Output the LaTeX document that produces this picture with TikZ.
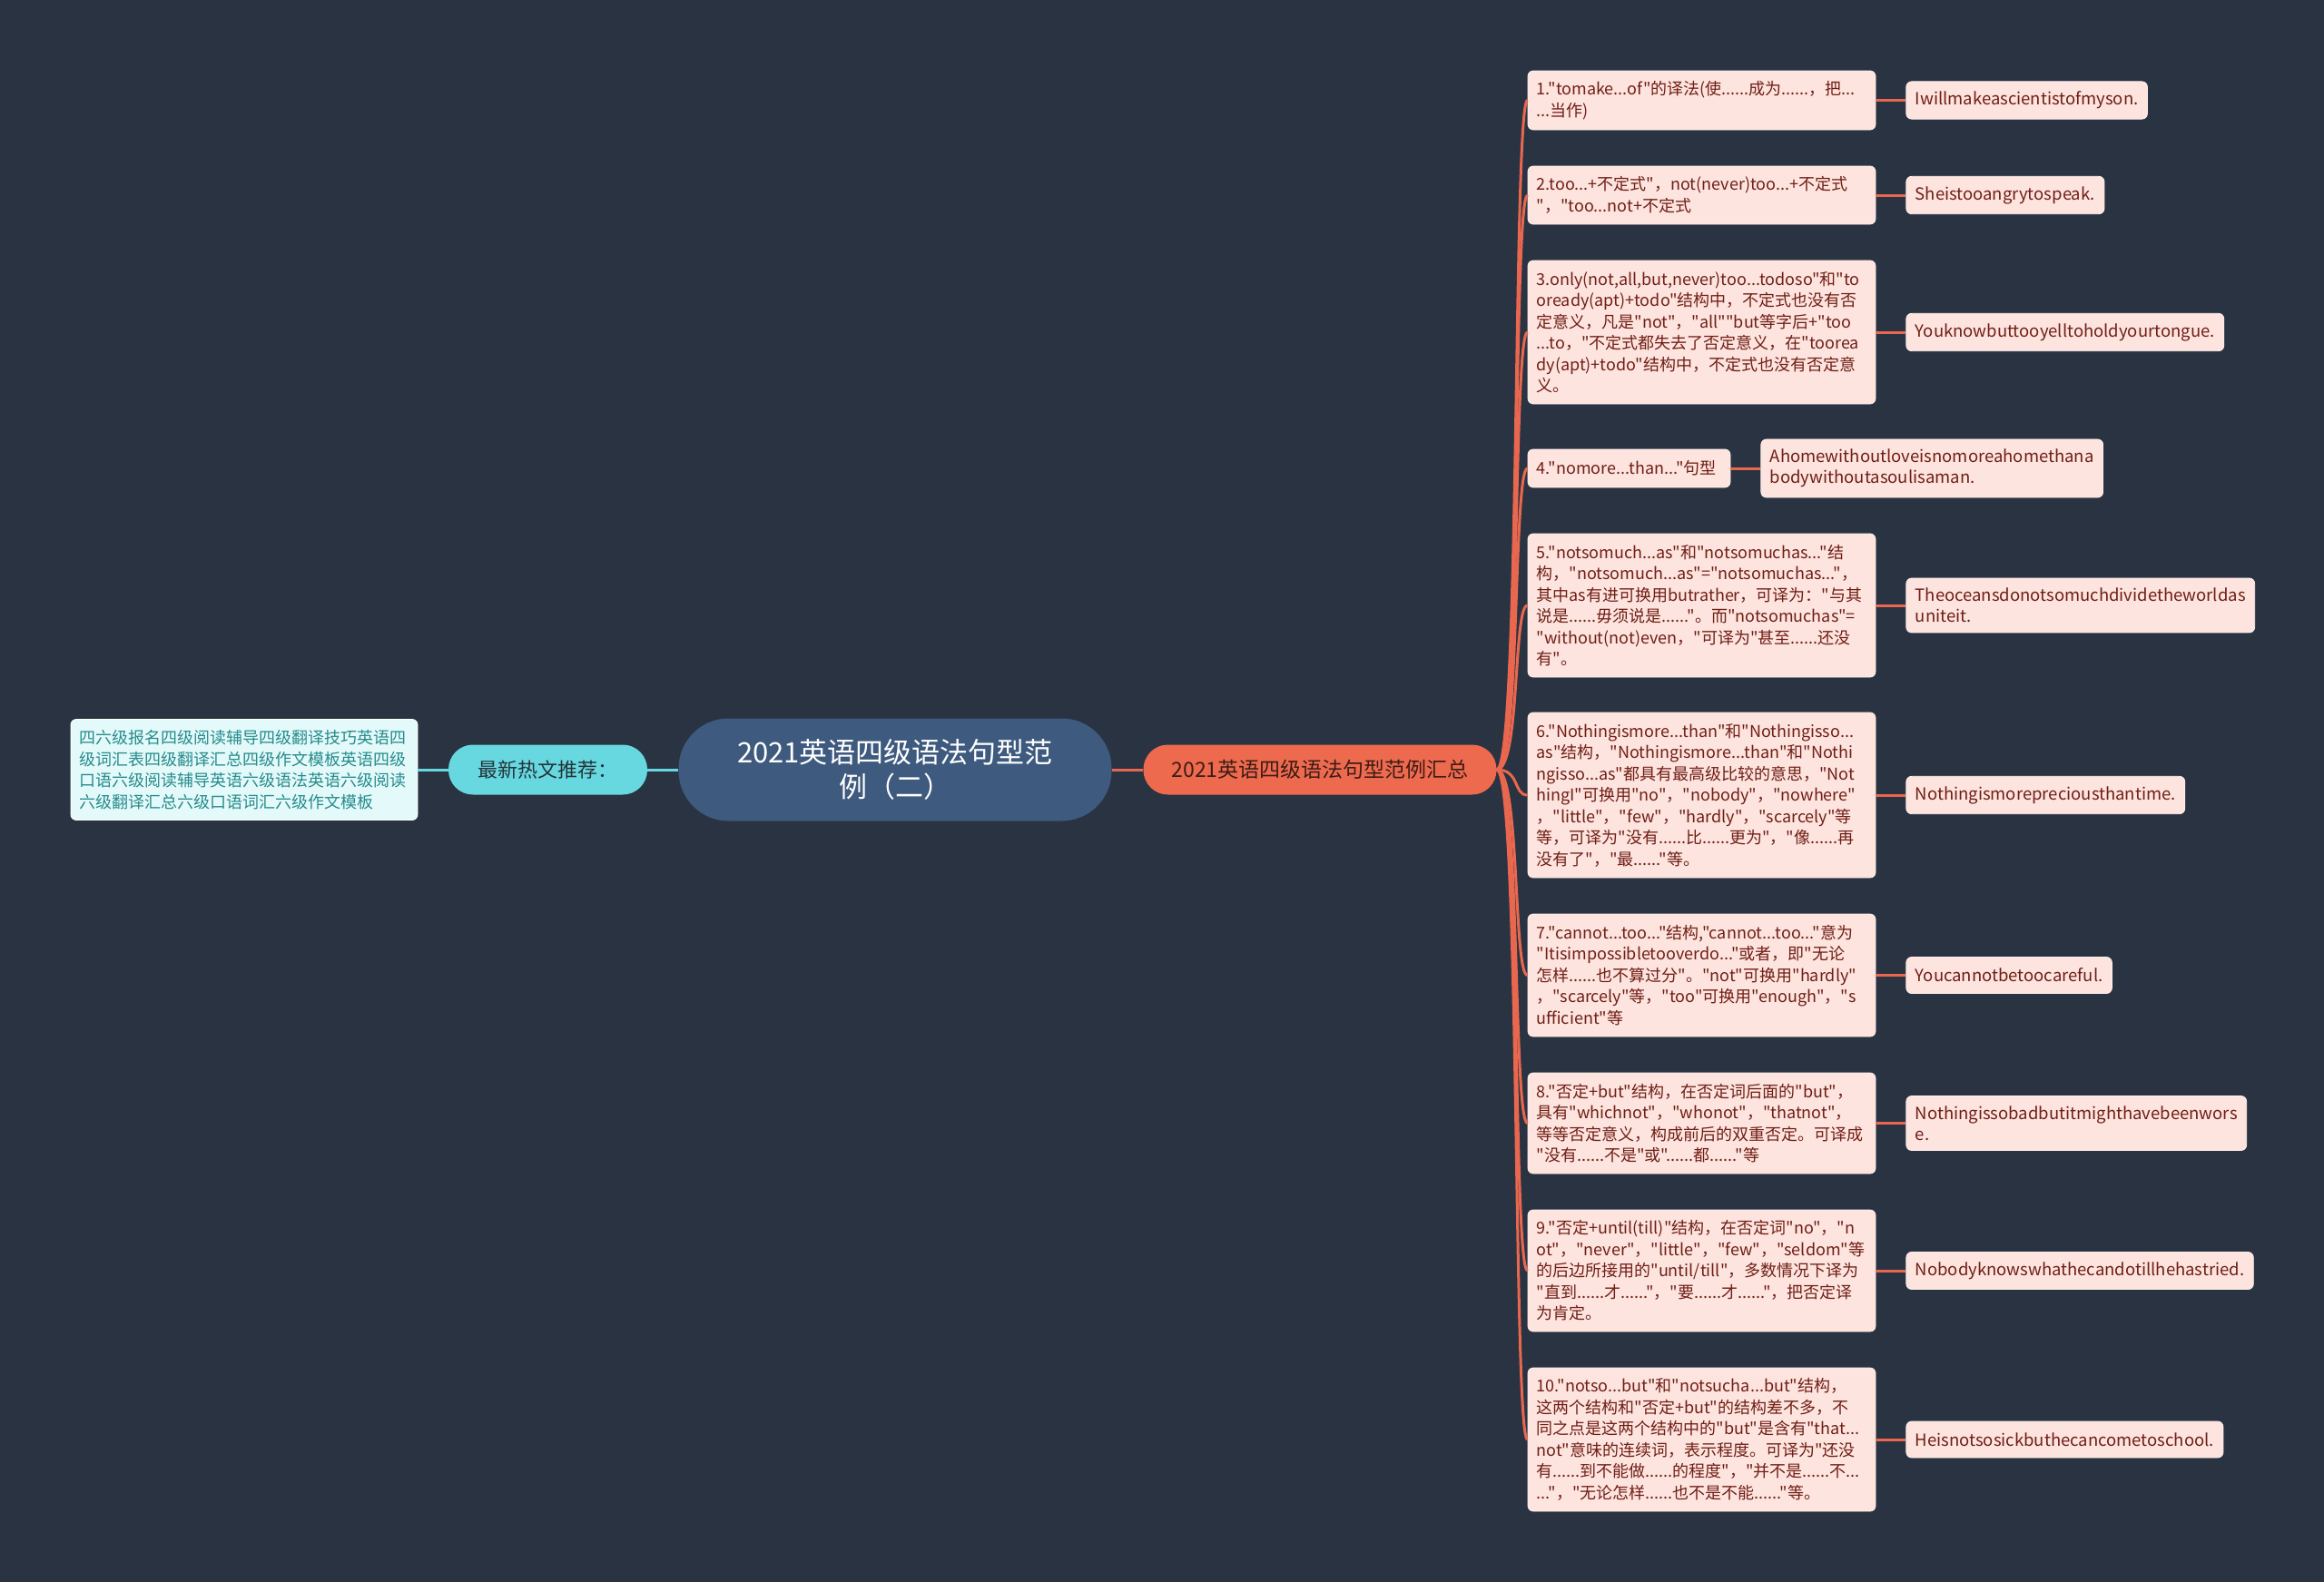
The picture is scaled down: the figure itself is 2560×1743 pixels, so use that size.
\documentclass[tikz,border=0pt]{standalone}
\usepackage{fontspec}
\setmainfont{Noto Sans CJK SC}
\newfontfamily\cjkfont{Noto Sans CJK SC}
\usetikzlibrary{positioning}
\hyphenpenalty=10000
\exhyphenpenalty=10000

\definecolor{bgcol}{RGB}{42,51,66}
\definecolor{rootcol}{RGB}{62,90,126}
\definecolor{sumcol}{RGB}{238,106,78}
\definecolor{hotcol}{RGB}{104,216,224}
\definecolor{hotlistcol}{RGB}{228,249,250}
\definecolor{tealtext}{RGB}{38,140,140}
\definecolor{boxcol}{RGB}{253,228,222}
\definecolor{boxedge}{RGB}{255,240,236}
\definecolor{textcol}{RGB}{112,30,22}
\definecolor{linecol}{RGB}{232,103,78}

\newcommand{\gfont}{\cjkfont\fontsize{18}{23.5}\selectfont}

\begin{document}
\begin{tikzpicture}[x=1pt,y=-1pt,
  rootnode/.style={fill=rootcol, rounded corners=55pt, minimum width=477pt,
    minimum height=113pt, text=white, align=center,
    font=\cjkfont\fontsize{31}{38}\selectfont},
  sumnode/.style={fill=sumcol, rounded corners=27pt, minimum width=389pt,
    minimum height=55pt, text={rgb,255:red,60;green,28;blue,22},
    font=\cjkfont\fontsize{23}{28}\selectfont},
  hotnode/.style={fill=hotcol, rounded corners=27pt, minimum width=219pt,
    minimum height=55pt, text={rgb,255:red,34;green,52;blue,56},
    font=\cjkfont\fontsize{22}{27}\selectfont},
  hotlist/.style={fill=hotlistcol, draw=white, line width=0.8pt,
    rounded corners=6pt, text=tealtext, align=left, text width=364pt,
    inner xsep=9pt, minimum height=111pt, font=\gfont},
  gbox/.style={fill=boxcol, draw=boxedge, line width=0.8pt, rounded corners=6pt,
    text=textcol, align=left, text width=364pt, inner xsep=9.5pt,
    inner ysep=8pt, font=\gfont},
  ebox/.style={fill=boxcol, draw=boxedge, line width=0.8pt, rounded corners=6pt,
    text=textcol, align=left, inner xsep=10pt, inner ysep=11pt,
    minimum height=40pt, font=\cjkfont\fontsize{18.5}{23}\selectfont},
  orangeline/.style={draw=linecol, line width=3pt},
  cyanline/.style={draw=hotcol, line width=3pt}]

  % background and page size
  \fill[bgcol] (0,0) rectangle (2560,1743);
  \useasboundingbox (0,0) rectangle (2560,1743);

  % centre and first level
  \node[rootnode] (root) at (986,848) {2021英语四级语法句型范\\例（二）};
  \node[sumnode] (sum) at (1454,848) {2021英语四级语法句型范例汇总};
  \node[hotnode] (hot) at (603.5,848) {最新热文推荐：};
  \node[hotlist] (list) at (269,848)
    {四六级报名四级阅读辅导四级翻译技巧英语四\\
     级词汇表四级翻译汇总四级作文模板英语四级\\
     口语六级阅读辅导英语六级语法英语六级阅读\\
     六级翻译汇总六级口语词汇六级作文模板};

  % grammar points
  \node[gbox, minimum height=65pt] (g1) at (1874.5,110.5)
    {1."tomake...of"的译法(使......成为......，把...\\
     ...当作)};
  \node[gbox, minimum height=64pt] (g2) at (1874.5,215)
    {2.too...+不定式"，not(never)too...+不定式\\
     "，"too...not+不定式};
  \node[gbox, minimum height=158pt] (g3) at (1874.5,366)
    {3.only(not,all,but,never)too...todoso"和"to\\
     oready(apt)+todo"结构中，不定式也没有否\\
     定意义，凡是"not"，"all""but等字后+"too\\
     ...to，"不定式都失去了否定意义，在"toorea\\
     dy(apt)+todo"结构中，不定式也没有否定意\\
     义。};
  \node[gbox, text width=204pt, minimum height=42pt] (g4) at (1794.5,516)
    {4."nomore...than..."句型};
  \node[gbox, minimum height=158pt] (g5) at (1874.5,667)
    {5."notsomuch...as"和"notsomuchas..."结\\
     构，"notsomuch...as"="notsomuchas..."，\\
     其中as有进可换用butrather，可译为："与其\\
     说是......毋须说是......"。而"notsomuchas"=\\
     "without(not)even，"可译为"甚至......还没\\
     有"。};
  \node[gbox, minimum height=182pt] (g6) at (1874.5,876)
    {6."Nothingismore...than"和"Nothingisso...\\
     as"结构，"Nothingismore...than"和"Nothi\\
     ngisso...as"都具有最高级比较的意思，"Not\\
     hingI"可换用"no"，"nobody"，"nowhere"\\
     ，"little"，"few"，"hardly"，"scarcely"等\\
     等，可译为"没有......比......更为"，"像......再\\
     没有了"，"最......"等。};
  \node[gbox, minimum height=135pt] (g7) at (1874.5,1074.5)
    {7."cannot...too..."结构,"cannot...too..."意为\\
     "Itisimpossibletooverdo..."或者，即"无论\\
     怎样......也不算过分"。"not"可换用"hardly"\\
     ，"scarcely"等，"too"可换用"enough"，"s\\
     ufficient"等};
  \node[gbox, minimum height=111pt] (g8) at (1874.5,1237.5)
    {8."否定+but"结构，在否定词后面的"but"，\\
     具有"whichnot"，"whonot"，"thatnot"，\\
     等等否定意义，构成前后的双重否定。可译成\\
     "没有......不是"或"......都......"等};
  \node[gbox, minimum height=134pt] (g9) at (1874.5,1400)
    {9."否定+until(till)"结构，在否定词"no"，"n\\
     ot"，"never"，"little"，"few"，"seldom"等\\
     的后边所接用的"until/till"，多数情况下译为\\
     "直到......才......"，"要......才......"，把否定译\\
     为肯定。};
  \node[gbox, minimum height=158pt] (g10) at (1874.5,1586)
    {10."notso...but"和"notsucha...but"结构，\\
     这两个结构和"否定+but"的结构差不多，不\\
     同之点是这两个结构中的"but"是含有"that...\\
     not"意味的连续词，表示程度。可译为"还没\\
     有......到不能做......的程度"，"并不是......不...\\
     ..."，"无论怎样......也不是不能......"等。};

  % example sentences
  \foreach \i/\t in {1/Iwillmakeascientistofmyson.,
      2/Sheistooangrytospeak.,
      3/Youknowbuttooyelltoholdyourtongue.,
      4/{Ahomewithoutloveisnomoreahomethana\\bodywithoutasoulisaman.},
      5/{Theoceansdonotsomuchdividetheworldas\\uniteit.},
      6/Nothingismorepreciousthantime.,
      7/Youcannotbetoocareful.,
      8/{Nothingissobadbutitmighthavebeenwors\\e.},
      9/Nobodyknowswhathecandotillhehastried.,
      10/Heisnotsosickbuthecancometoschool.}
    {\node[ebox, right=33pt of g\i] (e\i) {\t};}

  % connectors
  \draw[cyanline] (root) -- (hot);
  \draw[cyanline] (hot) -- (list);
  \draw[orangeline] (root) -- (sum);
  \foreach \i in {1,...,10}
    {\draw[orangeline] (sum.east) .. controls +(26,0) and +(-16,0) .. (g\i.west);
     \draw[orangeline] (g\i) -- (e\i);}
\end{tikzpicture}
\end{document}
